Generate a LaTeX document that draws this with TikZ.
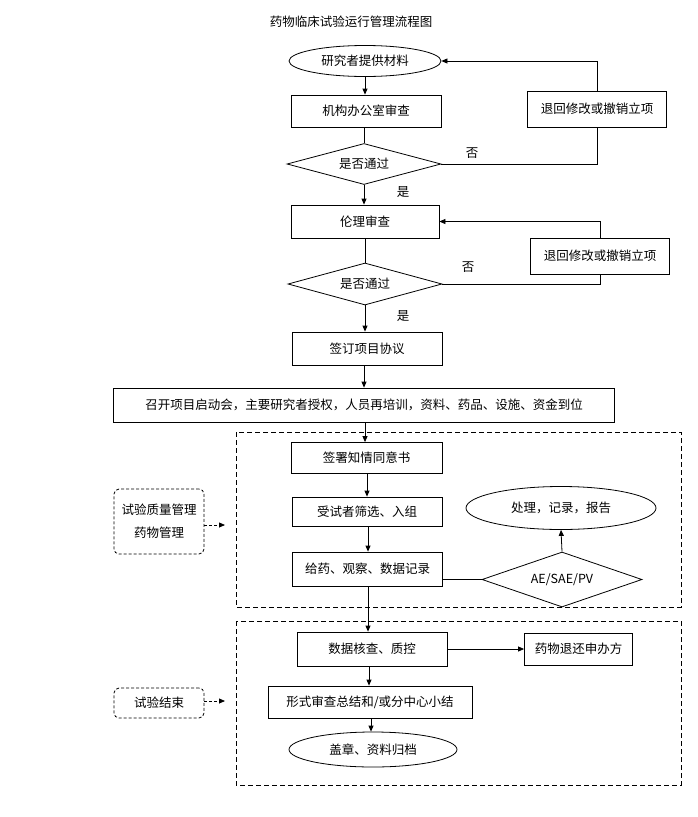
\documentclass[tikz,border=0pt]{standalone}
\usepackage{fontspec}
\setmainfont{Noto Sans CJK SC}
\usetikzlibrary{shapes.geometric,arrows.meta}

\begin{document}
\begin{tikzpicture}[x=1pt,y=-1pt,line width=0.8pt,
		font=\fontsize{12.5pt}{15pt}\selectfont,
		>={Triangle[length=6pt,width=5pt]},
		box/.style={draw, rectangle, inner sep=0pt},
		terminal/.style={draw, ellipse, inner sep=0pt},
		decision/.style={draw, diamond, inner sep=0pt, aspect=3},
		note/.style={draw, rectangle, rounded corners=5pt, dash pattern=on 3pt off 2pt, inner sep=0pt, align=center},
		frame/.style={dash pattern=on 5pt off 3pt}]
	\useasboundingbox (0,0) rectangle (698,817);
	
	% 标题
	\node (title) at (351,22) {药物临床试验运行管理流程图};
	
	% 立项审查
	\node[terminal, minimum width=152, minimum height=31] (submit) at (365,61) {研究者提供材料};
	\node[box, minimum width=150, minimum height=32] (office) at (366,111) {机构办公室审查};
	\node[decision, minimum width=154, minimum height=41] (dec1) at (364,164) {是否通过};
	\node[box, minimum width=139, minimum height=36] (ret1) at (597,109) {退回修改或撤销立项};
	\draw[->] (submit) -- (submit.south |- office.north);
	\draw (office.south -| dec1.north) -- (dec1.north);
	\draw (dec1.east) -| (ret1.south);
	\draw[->] (ret1.north) |- (submit.east);
	\node (no1) at (472,153) {否};
	\node (yes1) at (403,192) {是};
	
	% 伦理审查
	\node[box, minimum width=148, minimum height=33] (ethics) at (365,221.5) {伦理审查};
	\node[decision, minimum width=154, minimum height=42] (dec2) at (365,284) {是否通过};
	\node[box, minimum width=139, minimum height=36] (ret2) at (600,256) {退回修改或撤销立项};
	\draw[->] (dec1.south) -- (dec1.south |- ethics.north);
	\draw (ethics) -- (dec2);
	\draw (dec2.east) -| (ret2.south);
	\draw[->] (ret2.north) |- (ethics.east);
	\node (no2) at (468,267) {否};
	\node (yes2) at (403,316) {是};
	
	% 协议与启动
	\node[box, minimum width=150, minimum height=33] (sign) at (367,348.5) {签订项目协议};
	\node[box, minimum width=501, minimum height=34] (kickoff) at (364,405) {召开项目启动会，主要研究者授权，人员再培训，资料、药品、设施、资金到位};
	\draw[->] (dec2.south) -- (dec2.south |- sign.north);
	\draw[->] (sign.south -| kickoff.north) -- (kickoff.north);
	
	% 试验实施
	\draw[frame] (236,432) rectangle (681,607);
	\node[box, minimum width=151, minimum height=31] (consent) at (366.5,458) {签署知情同意书};
	\node[box, minimum width=150, minimum height=29] (screen) at (367,511.5) {受试者筛选、入组};
	\node[box, minimum width=150, minimum height=34] (dose) at (367.5,569) {给药、观察、数据记录};
	\node[terminal, minimum width=190, minimum height=43] (handle) at (561,508) {处理，记录，报告};
	\node[decision, minimum width=160, minimum height=55] (ae) at (562,579.5) {AE/SAE/PV};
	\draw[->] (kickoff.south -| 365,0) -- (consent.north -| 365,0);
	\draw[->] (consent.south -| 367,0) -- (screen.north -| 367,0);
	\draw[->] (screen.south -| 368,0) -- (dose.north -| 368,0);
	\draw (dose.east |- ae.west) -- (ae.west);
	\draw[->] (ae.north) -- (handle.south);
	
	\node[note, minimum width=90, minimum height=65] (qc) at (159,521.5) {试验质量管理\\[8pt]药物管理};
	\coordinate (qcend) at (225,525);
	\draw[->, dash pattern=on 3pt off 2pt] (qc.east |- qcend) -- (qcend);
	
	% 试验结束
	\draw[frame] (236,621) rectangle (681,785);
	\node[box, minimum width=150, minimum height=34] (check) at (372,649) {数据核查、质控};
	\node[box, minimum width=108, minimum height=32] (return) at (578.5,649) {药物退还申办方};
	\node[box, minimum width=204, minimum height=32] (summary) at (370,702) {形式审查总结和/或分中心小结};
	\node[terminal, minimum width=168, minimum height=35] (archive) at (373,749.5) {盖章、资料归档};
	\draw[->] (dose.south -| 368,0) -- (check.north -| 368,0);
	\draw[->] (check.east) -- (return.west);
	\draw[->] (check.south -| 369,0) -- (summary.north -| 369,0);
	\draw[->] (summary.south -| 371,0) -- (archive.north -| 371,0);
	
	\node[note, minimum width=90, minimum height=30] (finish) at (159,703) {试验结束};
	\coordinate (finishend) at (225,701);
	\draw[->, dash pattern=on 3pt off 2pt] (finish.east |- finishend) -- (finishend);
\end{tikzpicture}
\end{document}
